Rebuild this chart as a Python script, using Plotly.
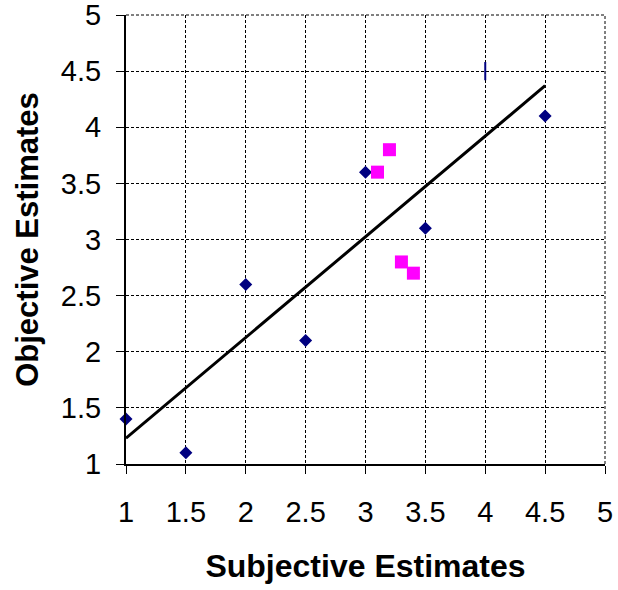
import plotly.graph_objects as go

# Data
blue_x = [1, 1.5, 2, 2.5, 3, 3.5, 4.5]
blue_y = [1.4, 1.1, 2.6, 2.1, 3.6, 3.1, 4.1]
odd_x = [4]
odd_y = [4.5]
pink_x = [3.1, 3.2, 3.3, 3.4]
pink_y = [3.6, 3.8, 2.8, 2.7]
trend_x = [1, 4.5]
trend_y = [1.23, 4.37]
tick_vals = [1, 1.5, 2, 2.5, 3, 3.5, 4, 4.5, 5]
tick_text = ["1", "1.5", "2", "2.5", "3", "3.5", "4", "4.5", "5"]

fig = go.Figure()
fig.add_trace(go.Scatter(x=trend_x, y=trend_y, mode="lines",
                         line=dict(color="black", width=3), cliponaxis=False))
fig.add_trace(go.Scatter(x=blue_x, y=blue_y, mode="markers",
                         marker=dict(symbol="diamond", size=10, color="#000080"),
                         cliponaxis=False))
fig.add_trace(go.Scatter(x=odd_x, y=odd_y, mode="markers",
                         marker=dict(symbol="line-ns", size=13,
                                     line=dict(color="#000080", width=2)),
                         cliponaxis=False))
fig.add_trace(go.Scatter(x=pink_x, y=pink_y, mode="markers",
                         marker=dict(symbol="square", size=13, color="#FF00FF"),
                         cliponaxis=False))

FONT = "Liberation Sans, Arial"
axis_common = dict(
    range=[1, 5], tickvals=tick_vals, ticktext=tick_text,
    showgrid=True, gridcolor="black", griddash="3px,2px", gridwidth=1,
    showline=True, linecolor="black", linewidth=2,
    ticks="outside", ticklen=8, tickcolor="black", tickwidth=1,
    tickfont=dict(family=FONT, size=29, color="black"),
    zeroline=False, automargin=False, ticklabeloverflow="allow",
)

fig.update_layout(
    width=618, height=590,
    margin=dict(l=126, r=13, t=15, b=126),
    paper_bgcolor="white", plot_bgcolor="white",
    showlegend=False,
    xaxis=dict(**axis_common, ticklabelstandoff=13,
               title=dict(text="Subjective Estimates", standoff=28,
                          font=dict(family=FONT, size=32, color="black", weight="bold"))),
    yaxis=dict(**axis_common, ticklabelstandoff=9,
               title=dict(text="Objective Estimates", standoff=13,
                          font=dict(family=FONT, size=31, color="black", weight="bold"))),
    shapes=[
        dict(type="line", xref="paper", yref="paper", x0=0, x1=1, y0=1, y1=1,
             line=dict(color="black", width=1, dash="3px,2px"), layer="below"),
        dict(type="line", xref="paper", yref="paper", x0=1, x1=1, y0=0, y1=1,
             line=dict(color="black", width=1, dash="3px,2px"), layer="below"),
    ],
)

# remove the default 8px page margin so the figure fills the window exactly
fig.write_html("out.html", config={"displayModeBar": False},
               post_script="document.body.style.margin='0';document.body.style.overflow='hidden';")
